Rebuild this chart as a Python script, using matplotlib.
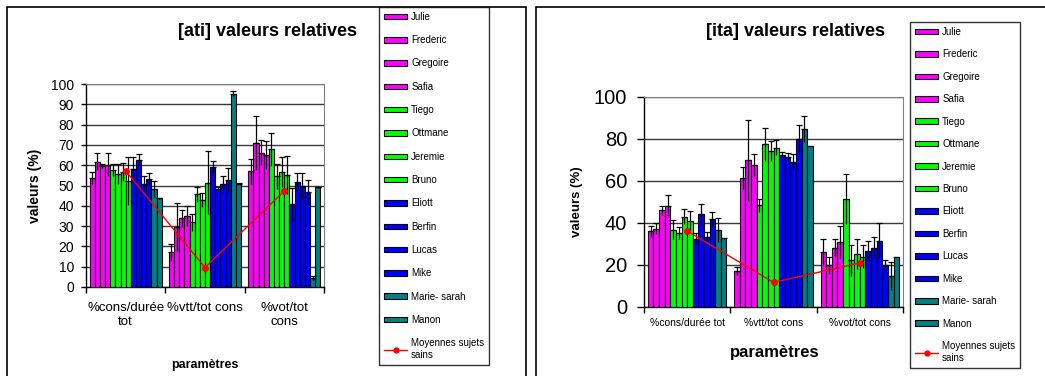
import matplotlib
matplotlib.use("Agg")
import matplotlib.pyplot as plt
import numpy as np
from matplotlib.patches import Rectangle, Patch
from matplotlib.lines import Line2D

plt.rcParams['font.family'] = ['Liberation Sans', 'DejaVu Sans']

subjects = ['Julie', 'Frederic', 'Gregoire', 'Safia', 'Tiego', 'Ottmane', 'Jeremie',
            'Bruno', 'Eliott', 'Berfin', 'Lucas', 'Mike', 'Marie- sarah', 'Manon']
subject_colors = ['#FF00FF'] * 4 + ['#00FF00'] * 4 + ['#0000FF'] * 4 + ['#008080'] * 2
mean_label = 'Moyennes sujets\nsains'

ati_params = ['%cons/durée\ntot', '%vtt/tot cons', '%vot/tot\ncons']
ati_cons = [53.5, 61.8, 59.6, 60.3, 57.8, 55.8, 56.5, 52.2, 58.0, 62.6, 50.7, 53.4, 48.2, 43.6]
ati_cons_err = [3, 4, 1, 5.5, 3, 5, 4.5, 12, 6, 3, 4, 3, 4, 0.3]
ati_vtt = [17, 29.5, 33.8, 35, 31.8, 45.6, 43, 51.4, 59.1, 48.3, 50.6, 52.6, 95.2, 50.9]
ati_vtt_err = [4, 12, 4, 5, 4, 3.5, 3.5, 15.5, 3, 1, 4, 6, 1.3, 0.3]
ati_vot = [57, 70.7, 66.2, 65, 67.9, 54.5, 56.5, 55.2, 40.7, 51.9, 49.8, 46.6, 4.6, 49.1]
ati_vot_err = [6.3, 13.3, 6, 7, 8.2, 6, 7.3, 9.5, 8, 4.5, 6.4, 6.1, 1, 0.3]
ati_mean = [57.2, 9.6, 47.3]

ita_params = ['%cons/durée tot', '%vtt/tot cons', '%vot/tot cons']
ita_cons = [36.1, 37.3, 46, 48.3, 36.9, 35.3, 43, 41, 32.3, 44.1, 33.5, 41.8, 36.6, 32.9]
ita_cons_err = [2.7, 2.7, 2.3, 5, 4.6, 3, 3.7, 4.6, 3, 5, 2, 3.3, 5.7, 0]
ita_vtt = [17.2, 61.4, 69.8, 67.4, 48.4, 77.5, 74.4, 75.9, 72.6, 71.5, 69.1, 80, 84.8, 76.6]
ita_vtt_err = [1.8, 5.4, 19.4, 5.4, 3, 7.8, 4.7, 3.5, 1.1, 2, 3.6, 6.8, 6.2, 0]
ita_vot = [26.1, 19.8, 28.2, 30.9, 51.4, 22.2, 25.3, 24, 26.7, 28.3, 31.5, 20.1, 14.7, 23.6]
ita_vot_err = [6.2, 4, 4.1, 7.9, 11.7, 7.4, 7.3, 5.3, 4.5, 5.2, 8.4, 2.4, 6.7, 0]
ita_mean = [36.2, 11.7, 21]

W, H = 1045, 376
fig = plt.figure(figsize=(W / 100, H / 100), dpi=100)


def fx(px):
    return px / W


def fy(py):
    return 1 - py / H


# outer frames
fig.add_artist(Rectangle((fx(7), fy(380)), fx(526 - 7), fy(7) - fy(380), transform=fig.transFigure,
                         fill=False, edgecolor='black', lw=1.2))
fig.add_artist(Rectangle((fx(536), fy(380)), fx(1060 - 536), fy(7) - fy(380), transform=fig.transFigure,
                         fill=False, edgecolor='black', lw=1.2))


def draw_chart(ax, params, groups, errs, means, ystep, ytick_fs, xtick_fs, xpad, ytlen, ypad):
    n = len(subjects)
    total = 0.91
    bw = total / n
    centers = np.arange(len(params)) + 0.5
    for i, name in enumerate(subjects):
        xs = centers - total / 2 + bw * (i + 0.5)
        vals = [g[i] for g in groups]
        ers = [e[i] for e in errs]
        ax.bar(xs, vals, width=bw, color=subject_colors[i], edgecolor='black', linewidth=0.8,
               zorder=3)
        ers_arr = np.array(ers, dtype=float)
        ers_arr[ers_arr == 0] = np.nan
        ax.errorbar(xs, vals, yerr=[ers_arr, np.zeros_like(ers_arr)], fmt='none', ecolor='black',
                    elinewidth=0.9, capsize=0, zorder=4)
        ax.errorbar(xs, vals, yerr=[np.zeros_like(ers_arr), ers_arr], fmt='none', ecolor='black',
                    elinewidth=0.9, capsize=2.5, capthick=0.9, zorder=4)
    ax.plot(centers, means, color='red', lw=1, marker='o', markersize=4, zorder=5)
    ax.set_xlim(0, len(params))
    ax.set_ylim(0, 100)
    ax.set_yticks(np.arange(0, 101, ystep))
    ax.yaxis.grid(True, color='#3a3a3a', lw=1)
    ax.set_axisbelow(True)
    ax.set_xticks(centers)
    ax.set_xticklabels(params, fontsize=xtick_fs)
    ax.tick_params(axis='x', length=0, pad=xpad)
    ax.set_xticks(np.arange(len(params) + 1), minor=True)
    ax.tick_params(axis='x', which='minor', length=4, width=1, direction='out')
    ax.tick_params(axis='y', labelsize=ytick_fs, length=ytlen, width=1, direction='out', pad=ypad)
    for s in ['top', 'right']:
        ax.spines[s].set_color('#808080')
    for s in ['left', 'bottom']:
        ax.spines[s].set_color('black')
        ax.spines[s].set_linewidth(1)


# Left chart
ax1 = fig.add_axes([fx(86), fy(287), fx(324 - 86), fy(84) - fy(287)])
draw_chart(ax1, ati_params, [ati_cons, ati_vtt, ati_vot], [ati_cons_err, ati_vtt_err, ati_vot_err],
           ati_mean, 10, 10, 9.5, 11, 3.6, 5)
fig.text(fx(267), fy(31), '[ati] valeurs relatives', ha='center', va='center', fontsize=13,
         fontweight='bold')
fig.text(fx(35), fy(186), 'valeurs (%)', ha='center', va='center', rotation=90, fontsize=10,
         fontweight='bold')
fig.text(fx(205), fy(365), 'paramètres', ha='center', va='center', fontsize=9, fontweight='bold')

# Right chart
ax2 = fig.add_axes([fx(644), fy(307), fx(903 - 644), fy(97) - fy(307)])
draw_chart(ax2, ita_params, [ita_cons, ita_vtt, ita_vot], [ita_cons_err, ita_vtt_err, ita_vot_err],
           ita_mean, 20, 14.5, 7.5, 8, 5, 7)
fig.text(fx(796), fy(31), '[ita] valeurs relatives', ha='center', va='center', fontsize=13,
         fontweight='bold')
fig.text(fx(577), fy(202), 'valeurs (%)', ha='center', va='center', rotation=90, fontsize=9.5,
         fontweight='bold')
fig.text(fx(775), fy(352), 'paramètres', ha='center', va='center', fontsize=12, fontweight='bold')

# Legends
handles = [Patch(facecolor=c, edgecolor='black', linewidth=0.8) for c in subject_colors]
handles.append(Line2D([0], [0], color='red', lw=1, marker='o', markersize=3.5))
labels = subjects + [mean_label]

for anchor, spacing in [((fx(379), fy(7)), 1.37), ((fx(910), fy(22)), 1.28)]:
    leg = fig.legend(handles, labels, loc='upper left', bbox_to_anchor=anchor, fontsize=7,
                     frameon=True, fancybox=False, edgecolor='black', handlelength=2.4,
                     handleheight=0.5, handletextpad=0.4, labelspacing=spacing, borderpad=0.5,
                     borderaxespad=0)
    leg.get_frame().set_linewidth(1)

fig.savefig('out.png', dpi=100)
